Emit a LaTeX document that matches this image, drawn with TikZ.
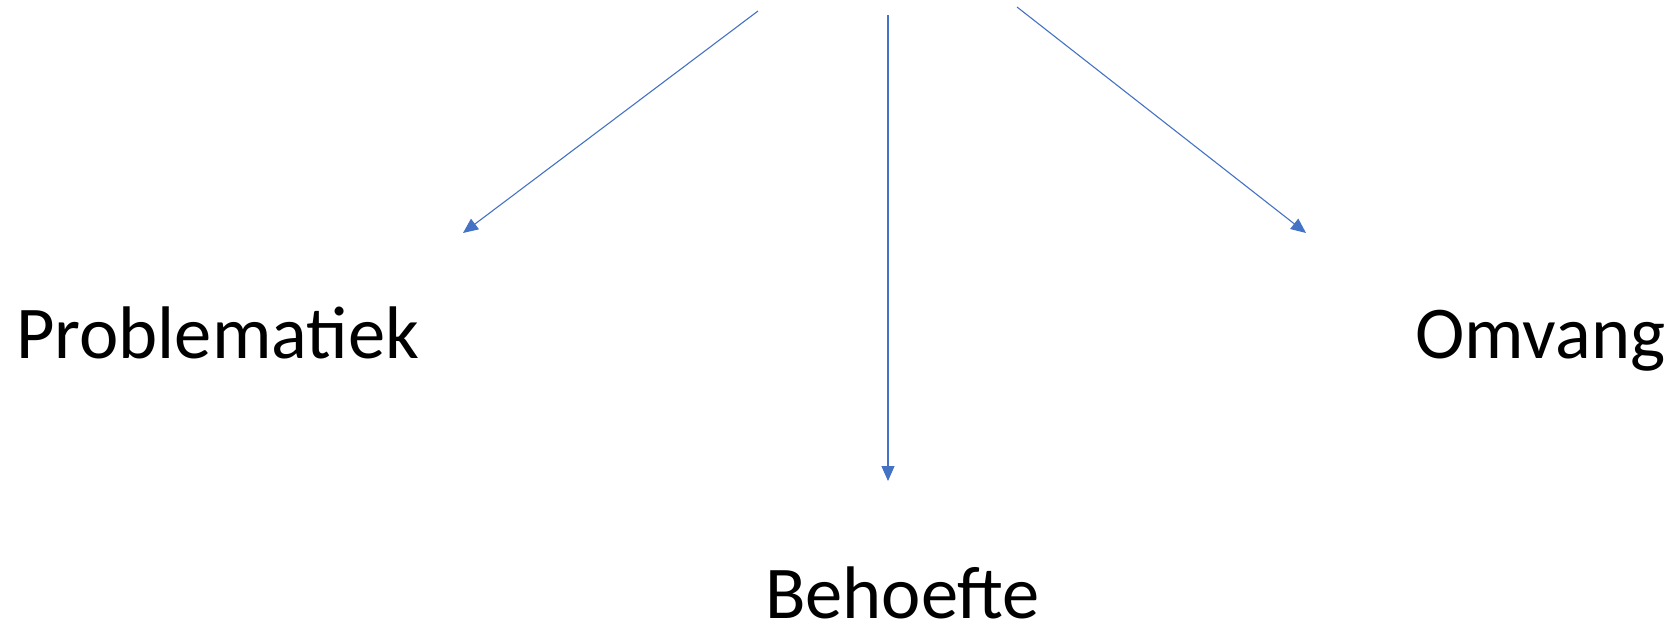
\documentclass[tikz,border=0pt]{standalone}
\usepackage{fontspec}
\setmainfont{Carlito}
\usetikzlibrary{arrows.meta}
\definecolor{arrowblue}{HTML}{4472C4}
\tikzset{
  link/.style={draw=arrowblue, line width=1.1pt, -{Triangle[length=15pt,width=13pt]}},
  lbl/.style={inner sep=0pt, anchor=base west, font=\fontsize{74.5}{80}\selectfont}
}
\begin{document}
\begin{tikzpicture}[x=1pt,y=-1pt]
\useasboundingbox (0,0) rectangle (1676,625);
\node[lbl] (prob) at (16,358) {Problematiek};
\node[lbl] (beh) at (765,618) {Behoefte};
\node[lbl] (omv) at (1415,358) {Omvang};
\coordinate (s1) at (758,11);
\coordinate (e1) at (463,233);
\coordinate (s2) at (888,15);
\coordinate (e2) at (888,481);
\coordinate (s3) at (1017,7);
\coordinate (e3) at (1306,233);
\draw[link] (s1) -- (e1);
\draw[link] (s2) -- (e2);
\draw[link] (s3) -- (e3);
\end{tikzpicture}
\end{document}
